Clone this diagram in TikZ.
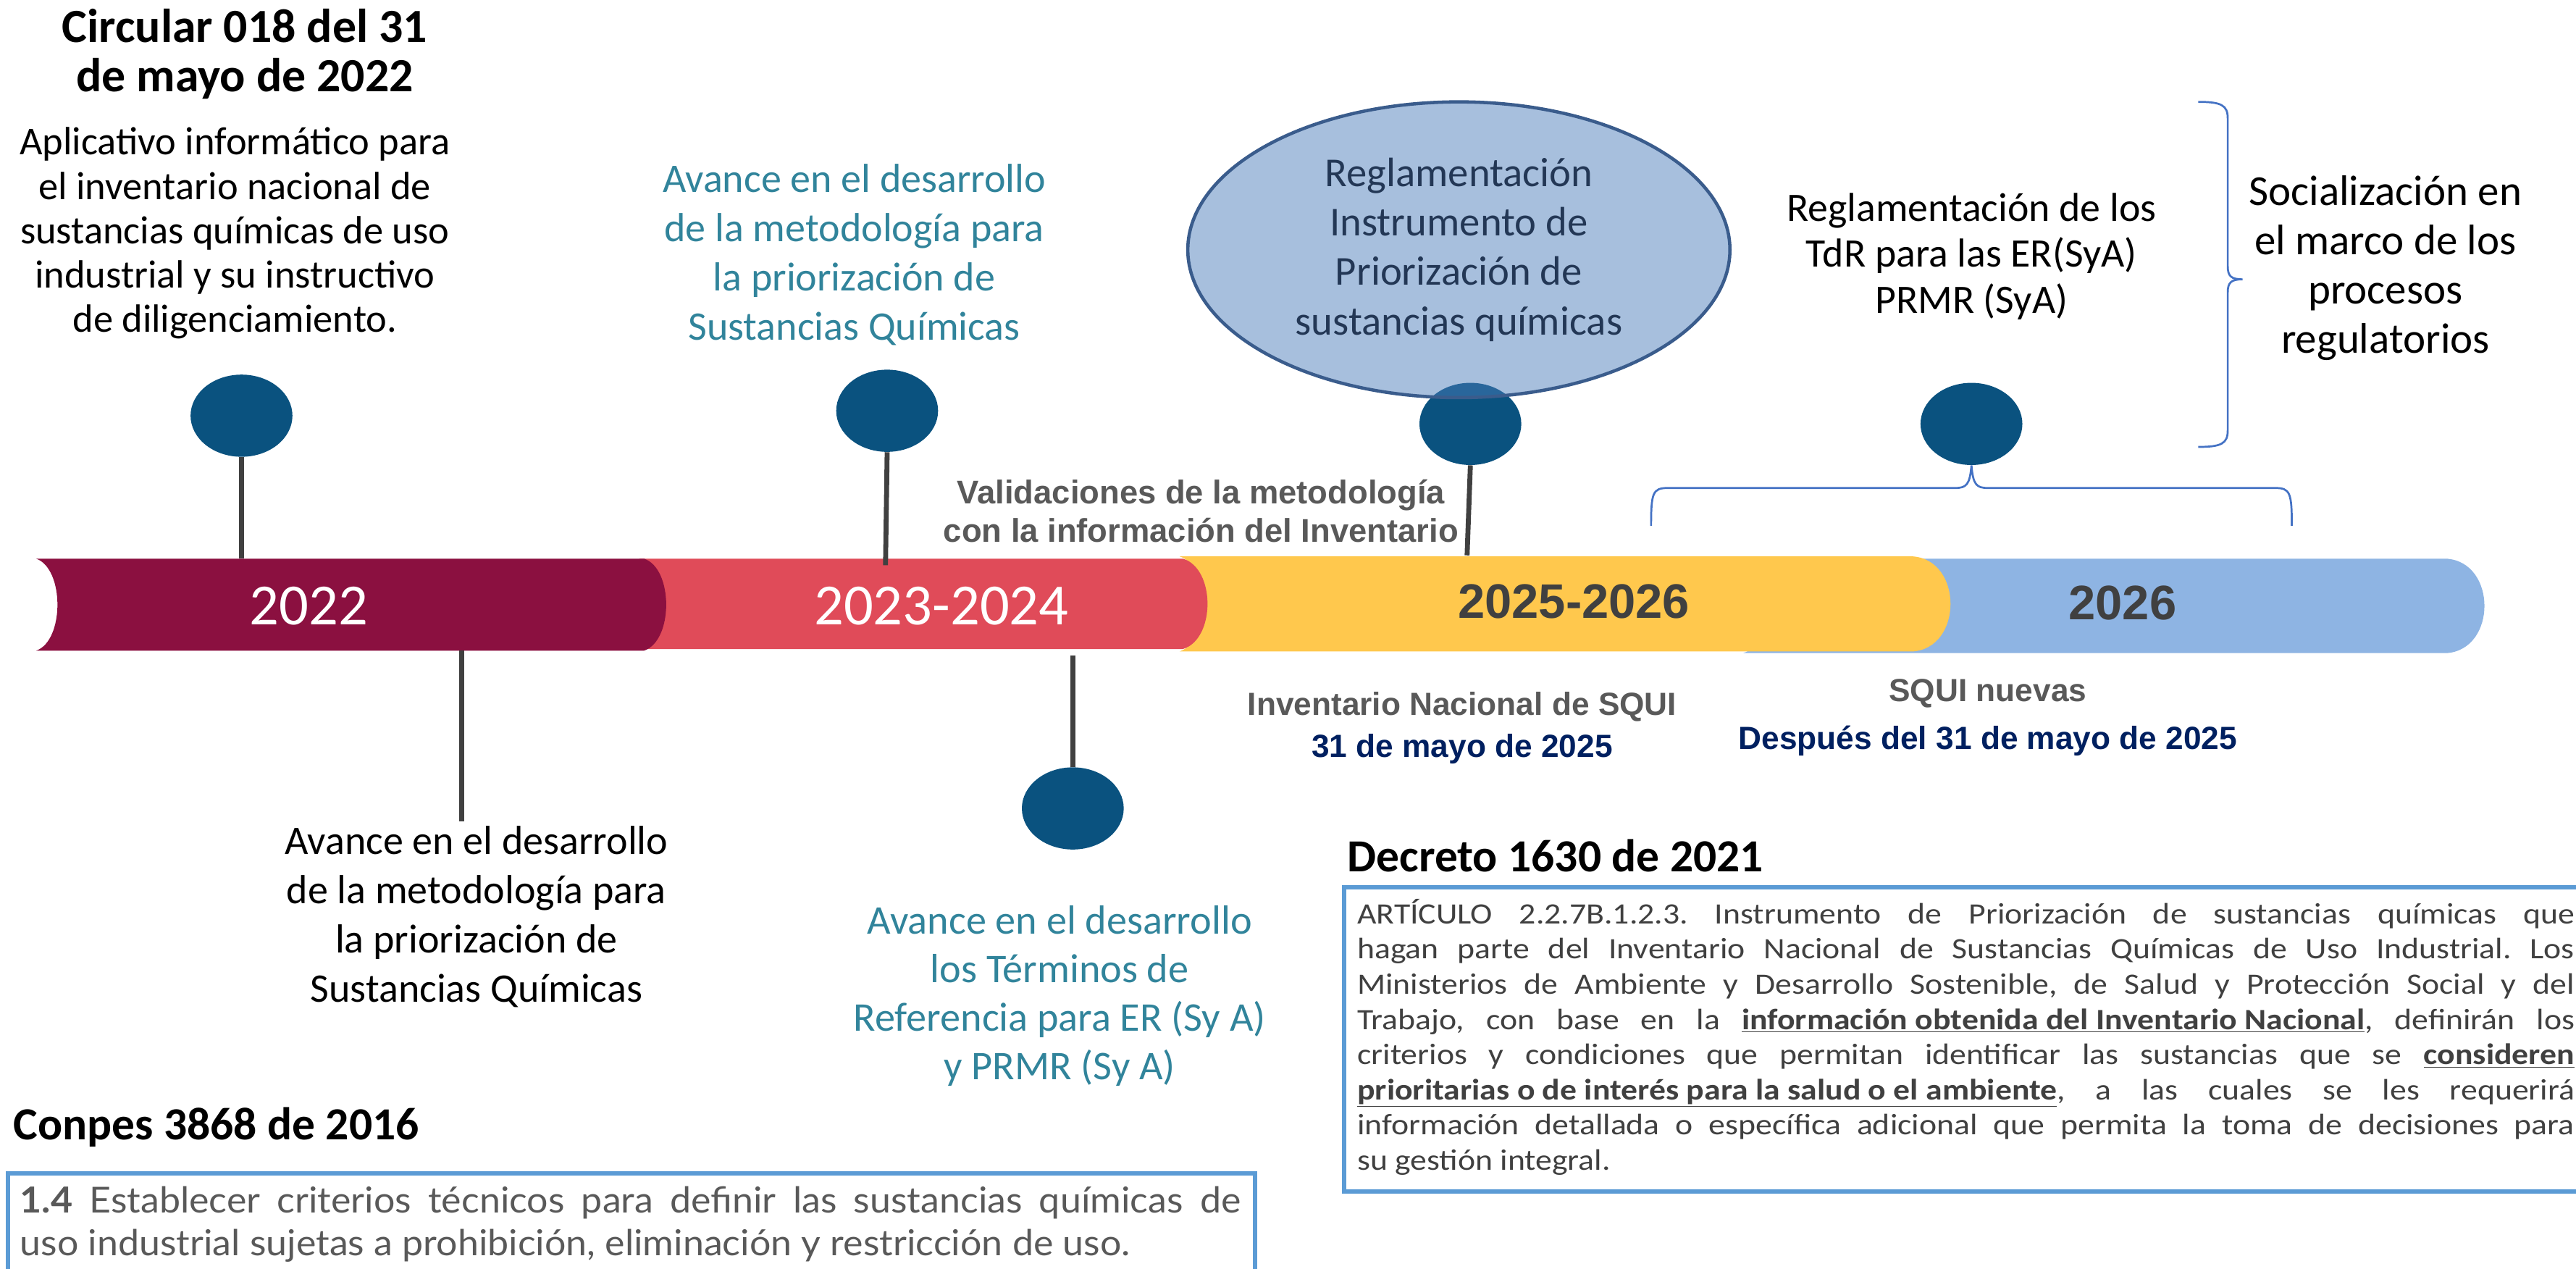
\documentclass[tikz,border=0pt]{standalone}
\usepackage{fontspec}
\setmainfont{Carlito}
\newfontfamily\arialf{Liberation Sans}
\newfontfamily\latof[FakeStretch=1.05]{Lato}
\newfontfamily\decf[FakeStretch=1.12]{Carlito}
\usetikzlibrary{shapes.geometric}
\definecolor{dotblue}{RGB}{10,82,127}
\definecolor{stemgray}{RGB}{64,64,64}
\definecolor{teal}{RGB}{49,132,155}
\definecolor{maroon}{RGB}{139,16,64}
\definecolor{redseg}{RGB}{224,75,89}
\definecolor{yelseg}{RGB}{255,200,77}
\definecolor{blueseg}{RGB}{142,180,227}
\definecolor{darktxt}{RGB}{64,64,64}
\definecolor{graytxt}{RGB}{89,89,89}
\definecolor{navy}{RGB}{0,32,96}
\definecolor{bracecol}{RGB}{68,114,196}
\definecolor{boxcol}{RGB}{91,155,213}
\definecolor{ellfill}{RGB}{75,124,186}
\definecolor{elldraw}{RGB}{58,92,140}
\definecolor{elltext}{RGB}{35,55,85}
\tikzset{
  dot/.style={ellipse, fill=dotblue, minimum width=62, minimum height=50, inner sep=0},
  stem/.style={draw=stemgray, line width=3},
  bodytxt/.style={font=\fontsize{24.7}{30}\selectfont, align=center, inner sep=0},
  tealtxt/.style={bodytxt, text=teal},
  yeartxt/.style={font=\fontsize{35.5}{40}\selectfont, text=white, inner sep=0},
  boldyear/.style={font=\arialf\bfseries\fontsize{29.5}{34}\selectfont, text=darktxt, inner sep=0},
  arialbold/.style={font=\arialf\bfseries\fontsize{19.5}{23}\selectfont, align=center, inner sep=0},
  heading/.style={font=\bfseries\fontsize{28}{32}\selectfont, inner sep=0, anchor=west},
  bracestyle/.style={draw=bracecol, line width=1.2},
  boxstyle/.style={draw=boxcol, line width=2.6},
}
\begin{document}
\begin{tikzpicture}[x=1pt,y=-1pt]
\useasboundingbox (0,0) rectangle (1568,772.3);
\clip (0,0) rectangle (1568,772.3);

% ---- timeline band (drawn from right to left so convex ends overlap)
\fill[blueseg] (1061,340) -- (1489,340) .. controls (1520,342) and (1520,395.5) .. (1489,397.5)
   -- (1061,397.5) .. controls (1080,392) and (1080,346) .. (1061,340) -- cycle;
\fill[yelseg] (718,338.6) -- (1164,338.6) .. controls (1195,340.6) and (1195,394.5) .. (1164,396.5)
   -- (718,396.5) .. controls (737,390) and (737,345) .. (718,338.6) -- cycle;
\fill[redseg] (389,340) -- (720,340) .. controls (740,346) and (740,389) .. (720,395)
   -- (389,395) .. controls (405,389) and (405,346) .. (389,340) -- cycle;
\fill[maroon] (22,340) -- (392,340) .. controls (410,346) and (410,390) .. (392,396)
   -- (22,396) .. controls (39.3,390) and (39.3,346) .. (22,340) -- cycle;

\node[yeartxt] (y1) at (188,369) {2022};
\node[yeartxt] (y2) at (573,369) {2023-2024};
\node[boldyear] (y3) at (958,366) {2025-2026};
\node[boldyear] (y4) at (1292,367) {2026};

% band anchor coordinates
\coordinate (b1) at (147,340);
\coordinate (b2) at (539,344);
\coordinate (b3) at (893,338);
\coordinate (b4) at (281,396);
\coordinate (e4) at (281,500);
\coordinate (b5) at (653,399);

% ---- top markers
\node[dot] (c1) at (147,253) {};
\draw[stem] (c1.south) -- (b1);
\node[dot] (c2) at (540,250) {};
\draw[stem] (c2.south) -- (b2);
\node[dot] (c3) at (895,258) {};
\draw[stem] (c3.south) -- (b3);

\node[ellipse, draw=elldraw, line width=2, fill=ellfill, fill opacity=0.49, text opacity=1,
      minimum width=330, minimum height=180, inner sep=0, align=center, text=elltext,
      font=\fontsize{25}{30}\selectfont] (reg) at (888,152)
      {Reglamentación\\Instrumento de\\Priorización de\\sustancias químicas};

\node[dot] (c4) at (1200,258) {};

% ---- bottom markers
\draw[stem] (b4) -- (e4);
\node[dot] (c5) at (653,492) {};
\draw[stem] (b5) -- (c5.north);

% ---- texts top
\node[font=\bfseries\fontsize{29}{30}\selectfont, align=center, inner sep=0] (circ) at (149,33)
  {Circular 018 del 31\\de mayo de 2022};
\node[font=\fontsize{24}{27}\selectfont, align=center, inner sep=0] (apl) at (143,142)
  {Aplicativo informático para\\el inventario nacional de\\sustancias químicas de uso\\industrial y su instructivo\\de diligenciamiento.};
\node[tealtxt] (av1) at (520,155)
  {Avance en el desarrollo\\de la metodología para\\la priorización de\\Sustancias Químicas};
\node[arialbold, text=graytxt, font=\arialf\bfseries\fontsize{20}{23}\selectfont] (val) at (731,311)
  {Validaciones de la metodología\\con la información del Inventario};
\node[font=\fontsize{24.6}{28}\selectfont, align=center, inner sep=0] (tdr) at (1200,156)
  {Reglamentación de los\\TdR para las ER(SyA)\\PRMR (SyA)};
\node[font=\fontsize{26}{30}\selectfont, align=center, inner sep=0] (soc) at (1452,163)
  {Socialización en\\el marco de los\\procesos\\regulatorios};

% ---- braces
\draw[bracestyle] (1005,320) .. controls (1005,300) and (1006,297) .. (1015,297) -- (1190,297)
  .. controls (1197,297) and (1199,295) .. (c4.south)
  .. controls (1201,295) and (1203,297) .. (1210,297) -- (1385,297)
  .. controls (1394,297) and (1395,300) .. (1395,320);
\coordinate (brtip) at (1365,170);
\draw[bracestyle] (1338,62) .. controls (1352,62) and (1356,64) .. (1356,72) -- (1356,162)
  .. controls (1356,168) and (1358,170) .. (brtip)
  .. controls (1358,170) and (1356,172) .. (1356,178) -- (1356,262)
  .. controls (1356,270) and (1352,272) .. (1338,272);

% ---- texts bottom
\node[bodytxt] (av2) at (290,558)
  {Avance en el desarrollo\\de la metodología para\\la priorización de\\Sustancias Químicas};
\node[tealtxt, font=\fontsize{24.8}{29.5}\selectfont] (av3) at (645,606)
  {Avance en el desarrollo\\los Términos de\\Referencia para ER (Sy A)\\y PRMR (Sy A)};
\node[arialbold, text=graytxt] (inv) at (890,430) {Inventario Nacional de SQUI};
\node[arialbold, text=navy] (inv2) at (890,456) {31 de mayo de 2025};
\node[arialbold, text=graytxt] (sq) at (1210,422) {SQUI nuevas};
\node[arialbold, text=navy] (sq2) at (1210,451) {Después del 31 de mayo de 2025};

% ---- Decreto
\node[heading] (dech) at (820,521) {Decreto 1630 de 2021};
\draw[boxstyle] (1580,540) -- (818,540) -- (818,725) -- (1580,725);
\node[anchor=north west, inner sep=0, text width=741, align=justify, text=darktxt,
      font=\decf\fontsize{18}{21.4}\selectfont] (dect) at (826,547)
  {\frenchspacing ARTÍCULO 2.2.7B.1.2.3. Instrumento de Priorización de sustancias químicas que\linebreak
   hagan parte del Inventario Nacional de Sustancias Químicas de Uso Industrial. Los\linebreak
   Ministerios de Ambiente y Desarrollo Sostenible, de Salud y Protección Social y del\linebreak
   Trabajo, con base en la \underline{\textbf{información obtenida del Inventario Nacional}}, definirán los\linebreak
   criterios y condiciones que permitan identificar las sustancias que se \underline{\textbf{consideren}}\linebreak
   \underline{\textbf{prioritarias o de interés para la salud o el ambiente}}, a las cuales se les requerirá\linebreak
   información detallada o específica adicional que permita la toma de decisiones para\linebreak
   su gestión integral.};

% ---- Conpes
\node[heading] (conh) at (8,686) {Conpes 3868 de 2016};
\draw[boxstyle] (5,790) -- (5,714) -- (764,714) -- (764,790);
\node[anchor=north west, inner sep=0, text width=743, align=justify, text=graytxt,
      font=\latof\fontsize{21.8}{26}\selectfont] (cont) at (12,722)
  {\frenchspacing\textbf{1.4} Establecer criterios técnicos para definir las sustancias químicas de\linebreak
   uso industrial sujetas a prohibición, eliminación y restricción de uso.};
\end{tikzpicture}
\end{document}
